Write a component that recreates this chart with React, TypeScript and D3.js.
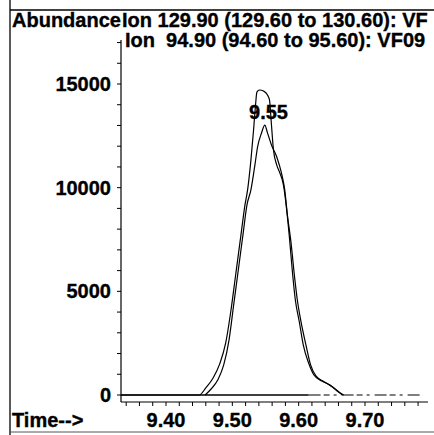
import React from 'react';
import * as d3 from 'd3';

// Ion 129.90 trace (taller)
const ionATime = [9.332, 9.45, 9.46, 9.471, 9.481, 9.49, 9.498, 9.505, 9.513, 9.519, 9.523, 9.528, 9.532, 9.535, 9.537, 9.541, 9.547, 9.553, 9.556, 9.559, 9.562, 9.567, 9.571, 9.577, 9.582, 9.586, 9.591, 9.595, 9.601, 9.607, 9.615, 9.623, 9.635, 9.647, 9.657, 9.666];
const ionAAbund = [0, 0, 340, 820, 1500, 2510, 4100, 5790, 7720, 9160, 9890, 11330, 12780, 13990, 14610, 14710, 14660, 14470, 14230, 13020, 11820, 11090, 10760, 10130, 8920, 7620, 5790, 4580, 3520, 2410, 1540, 965, 675, 480, 240, 0];

// Ion 94.90 trace (labelled 9.55)
const ionBTime = [9.459, 9.468, 9.478, 9.487, 9.495, 9.502, 9.508, 9.516, 9.522, 9.528, 9.534, 9.538, 9.544, 9.549, 9.553, 9.559, 9.567, 9.574, 9.579, 9.583, 9.588, 9.594, 9.598, 9.603, 9.611, 9.618, 9.626, 9.639, 9.651, 9.66, 9.668];
const ionBAbund = [0, 290, 720, 1450, 2650, 4340, 5790, 7720, 9160, 9890, 11090, 11960, 12640, 13020, 12640, 12060, 11480, 10710, 9890, 8680, 7480, 5640, 4580, 3620, 2410, 1450, 920, 630, 390, 145, 0];

const baseSolidTime = [9.332, 9.615];
const baseDashedTime = [9.615, 9.785];

const xTickLabels = [9.4, 9.5, 9.6, 9.7];
const xMinorTicks = d3.range(9.34, 9.7901, 0.02);
const yTickLabels = [0, 5000, 10000, 15000];
const yMinorTicks = d3.range(0, 17001, 1000);
const peakLabel = { time: 9.55, abund: 13020, text: '9.55' };

const x = d3.scaleLinear().domain([9.4, 9.7]).range([166, 365]);
const y = d3.scaleLinear().domain([0, 15000]).range([395, 84]);

const font = '"Liberation Sans", Arial, sans-serif';
const fs = 20;

export default function App() {
  const line = d3
    .line<[number, number]>()
    .x((d) => x(d[0]))
    .y((d) => y(d[1]))
    .curve(d3.curveMonotoneX);
  const pathA = line(ionATime.map((t, i) => [t, ionAAbund[i]]) as [number, number][]) || '';
  const pathB = line(ionBTime.map((t, i) => [t, ionBAbund[i]]) as [number, number][]) || '';
  const baseSolid = line(baseSolidTime.map((t) => [t, 0]) as [number, number][]) || '';
  const baseDashed = line(baseDashedTime.map((t) => [t, 0]) as [number, number][]) || '';

  const axisX0 = x(9.332);
  const axisX1 = x(9.795);
  const axisY = 402;
  const yAxisX = 121;

  const textProps = { fontSize: fs, fill: '#000', stroke: '#000', strokeWidth: 0.35 };

  return (
    <svg
      width={434}
      height={435}
      style={{ position: 'absolute', left: 0, top: 0, background: '#fff' }}
      fontFamily={font}
      fontWeight="bold"
    >
      <rect x={0} y={0} width={434} height={435} fill="#fff" />
      {/* frame */}
      <line x1={10} y1={0} x2={10} y2={435} stroke="#000" strokeWidth={1.3} />
      <line x1={10} y1={10} x2={434} y2={10} stroke="#000" strokeWidth={1.3} />
      <line x1={10} y1={432} x2={434} y2={432} stroke="#555" strokeWidth={1} />

      {/* header */}
      <text x={12} y={27} {...textProps}>Abundance</text>
      <text x={122} y={27} {...textProps} style={{ whiteSpace: 'pre' }}>
        Ion 129.90 (129.60 to 130.60): VF
      </text>
      <text x={125} y={47} {...textProps} style={{ whiteSpace: 'pre' }}>
        {'Ion  94.90 (94.60 to 95.60): VF09'}
      </text>

      {/* y axis */}
      <line x1={yAxisX} y1={40} x2={yAxisX} y2={axisY} stroke="#000" strokeWidth={1.2} />
      {yMinorTicks.map((v) => (
        <line key={'ym' + v} x1={yAxisX - 4} x2={yAxisX} y1={y(v)} y2={y(v)} stroke="#000" strokeWidth={1} />
      ))}
      {yTickLabels.map((v) => (
        <text key={'yl' + v} x={111} y={y(v) + 7} textAnchor="end" {...textProps}>
          {v}
        </text>
      ))}

      {/* x axis */}
      <line x1={axisX0} y1={axisY} x2={axisX1} y2={axisY} stroke="#000" strokeWidth={1.2} />
      {xMinorTicks.map((v) => (
        <line key={'xm' + v.toFixed(2)} x1={x(v)} x2={x(v)} y1={axisY} y2={axisY + 4} stroke="#000" strokeWidth={1} />
      ))}
      {xTickLabels.map((v) => (
        <text key={'xl' + v} x={x(v)} y={427} textAnchor="middle" {...textProps}>
          {v.toFixed(2)}
        </text>
      ))}
      <text x={12} y={427} {...textProps}>Time--&gt;</text>

      {/* traces */}
      <path d={baseSolid} fill="none" stroke="#000" strokeWidth={1.3} />
      <path d={baseDashed} fill="none" stroke="#000" strokeWidth={1.2} strokeDasharray="12 3 6 4 3 5" />
      <path d={pathA} fill="none" stroke="#000" strokeWidth={1.2} />
      <path d={pathB} fill="none" stroke="#000" strokeWidth={1.2} />

      <text x={x(peakLabel.time) + 3} y={y(peakLabel.abund) - 6} textAnchor="middle" {...textProps}>
        {peakLabel.text}
      </text>
    </svg>
  );
}
